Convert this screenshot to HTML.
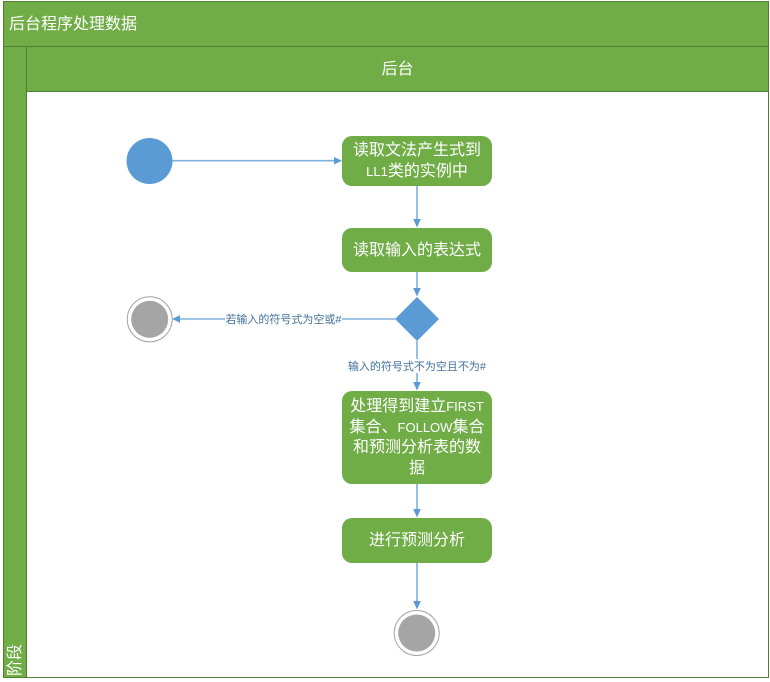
<!DOCTYPE html>
<html><head><meta charset="utf-8"><style>
html,body{margin:0;padding:0;background:#fff;width:770px;height:682px;overflow:hidden}
svg{display:block}
text{font-family:"Liberation Sans","WenQuanYi Zen Hei","Noto Sans CJK SC",sans-serif}
.n{font-size:16px;fill:#fff;text-anchor:middle}
.n tspan{font-size:13px}
.l{font-size:11px;fill:#41719c;text-anchor:middle}
</style></head><body>
<svg width="770" height="682" viewBox="0 0 770 682" xmlns="http://www.w3.org/2000/svg">
<rect x="3.5" y="1.5" width="765" height="676" fill="#fff" stroke="#507e32" stroke-width="1"/>
<rect x="3.5" y="1.5" width="765" height="45" fill="#70ad47" stroke="#507e32"/>
<rect x="3.5" y="46.5" width="23" height="631" fill="#70ad47" stroke="#507e32"/>
<rect x="26.5" y="46.5" width="742" height="45" fill="#70ad47" stroke="#507e32"/>
<text x="9" y="29" font-size="16" fill="#fff">后台程序处理数据</text>
<text x="397.5" y="74" class="n">后台</text>
<text transform="translate(20,676) rotate(-90)" font-size="16" fill="#fff">阶段</text>

<g stroke="#7fb1dd" stroke-width="1.6" fill="none">
<line x1="172" y1="160.7" x2="336" y2="160.7"/>
<line x1="417" y1="186" x2="417" y2="222"/>
<line x1="417" y1="272" x2="417" y2="291"/>
<line x1="395" y1="319" x2="178" y2="319"/>
<line x1="417" y1="341" x2="417" y2="385"/>
<line x1="417" y1="484" x2="417" y2="512"/>
<line x1="417" y1="563" x2="417" y2="603"/>
</g>
<g fill="#5b9bd5">
<polygon points="342,160.7 334,157 334,164.5"/>
<polygon points="417,227.5 413.2,219 420.8,219"/>
<polygon points="417,296.5 413.2,288 420.8,288"/>
<polygon points="172,319 180,315.2 180,322.8"/>
<polygon points="417,390.5 413.2,382 420.8,382"/>
<polygon points="417,517.5 413.2,509 420.8,509"/>
<polygon points="417,609.5 413.2,601 420.8,601"/>
</g>

<circle cx="149.5" cy="161" r="23" fill="#5b9bd5"/>
<circle cx="149.7" cy="319.3" r="22.5" fill="#fff" stroke="#a5a5a5"/>
<circle cx="149.7" cy="319.3" r="18.5" fill="#a5a5a5"/>
<circle cx="416.7" cy="633" r="22.5" fill="#fff" stroke="#a5a5a5"/>
<circle cx="416.7" cy="633" r="18.5" fill="#a5a5a5"/>
<polygon points="417,297 439,319 417,341 395,319" fill="#5b9bd5"/>

<g fill="#70ad47">
<rect x="342" y="136" width="150" height="50" rx="10"/>
<rect x="342" y="228" width="150" height="44" rx="10"/>
<rect x="342" y="391" width="150" height="93" rx="10"/>
<rect x="342" y="518" width="150" height="45" rx="10"/>
</g>
<text x="417" y="155" class="n">读取文法产生式到</text>
<text x="417" y="176" class="n"><tspan>LL1</tspan>类的实例中</text>
<text x="417" y="255" class="n">读取输入的表达式</text>
<text x="417" y="411" class="n">处理得到建立<tspan>FIRST</tspan></text>
<text x="417" y="432" class="n">集合、<tspan>FOLLOW</tspan>集合</text>
<text x="417" y="452" class="n">和预测分析表的数</text>
<text x="417" y="473" class="n">据</text>
<text x="417" y="545" class="n">进行预测分析</text>

<rect x="225" y="312" width="117" height="14" fill="#fff"/>
<text x="283.5" y="323" class="l">若输入的符号式为空或#</text>
<rect x="348" y="359" width="138" height="14" fill="#fff"/>
<text x="417" y="370" class="l">输入的符号式不为空且不为#</text>
</svg>
</body></html>
